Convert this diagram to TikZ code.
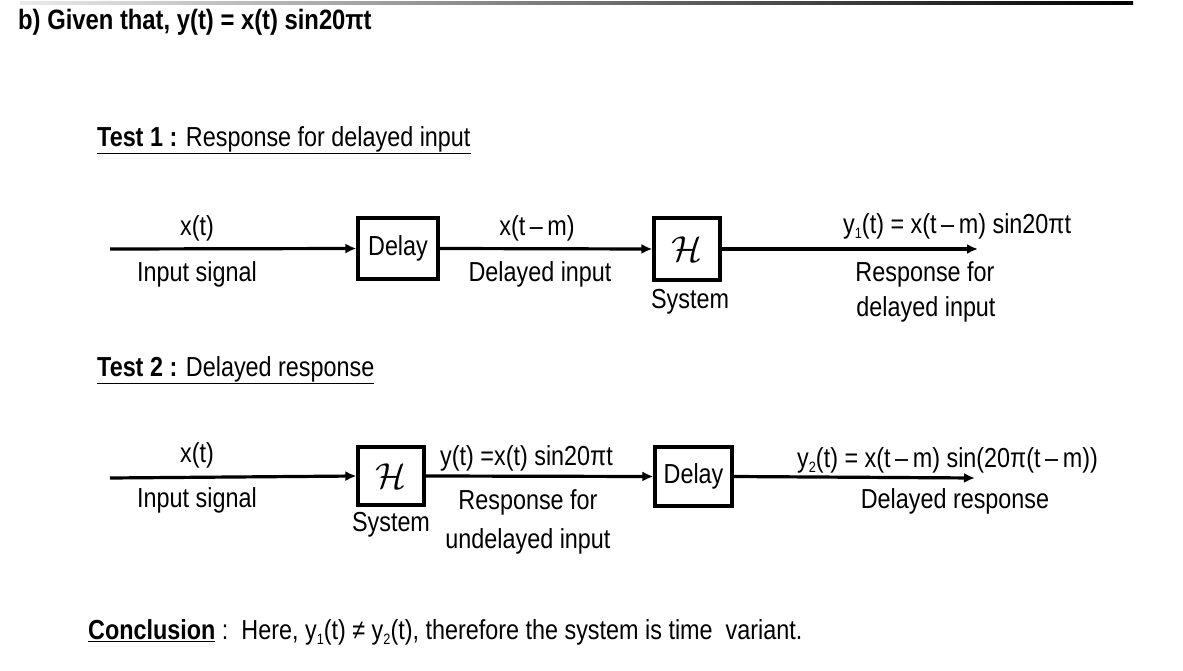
\documentclass[tikz,border=0pt]{standalone}
\usepackage{graphicx}
\usepackage{fontspec}
\setmainfont{Liberation Sans}[FakeStretch=0.85]
\usetikzlibrary{arrows.meta}
\newcommand{\lsub}[1]{\raisebox{-0.35ex}{\fontsize{15}{16}\selectfont #1}}
\newcommand{\sysH}{\scalebox{1.45}{\(\mathcal{H}\)}}
\begin{document}
\begin{tikzpicture}[x=1pt,y=-1pt,
  txt/.style={inner sep=0pt,font=\fontsize{27.5}{29}\selectfont,align=center},
  blk/.style={draw,line width=3.2pt,inner sep=0pt,font=\fontsize{27.5}{29}\selectfont},
  sig/.style={line width=3.2pt,-{Latex[length=11pt,width=10pt]}}]
\useasboundingbox (0,0) rectangle (1183,671);
\shade[left color=white!92!black,right color=black] (20,1.5) rectangle (1133,5);
% title
\node[txt,anchor=west,font=\fontsize{28}{30}\selectfont\bfseries] (title) at (18,22) {b) Given that, y(t) = x(t) sin20πt};
% Test 1
\node[txt,anchor=west] (t1) at (97,140) {\underline{\textbf{Test 1 :} Response for delayed input}};
\coordinate (in1) at (110,249);
\coordinate (out1) at (978,249);
\node[blk,minimum width=80pt,minimum height=61pt] (d1) at (398,248.5) {Delay};
\node[blk,minimum width=66pt,minimum height=62pt] (h1) at (687,249) {\sysH};
\draw[sig] (in1) -- (d1.west);
\draw[sig] (d1.east) -- (h1.west);
\draw[sig] (h1.east) -- (out1);
\node[txt] (l1a) at (197,228) {x(t)};
\node[txt] (l1b) at (197,274) {Input signal};
\node[txt] (l1c) at (537,228) {x(t\,–\,m)};
\node[txt] (l1d) at (540,274) {Delayed input};
\node[txt] (l1e) at (690,302) {System};
\node[txt,anchor=west] (l1f) at (843,226) {y\lsub{1}(t) = x(t\,–\,m) sin20πt};
\node[txt] (l1g) at (925,274) {Response for};
\node[txt] (l1h) at (926,309) {delayed input};
% Test 2
\node[txt,anchor=west] (t2) at (97,370) {\underline{\textbf{Test 2 :} Delayed response}};
\coordinate (in2) at (110,478);
\coordinate (out2) at (975,478);
\node[blk,minimum width=66pt,minimum height=58pt] (h2) at (391,476) {\sysH};
\node[blk,minimum width=77pt,minimum height=59pt] (d2) at (693.5,476.5) {Delay};
\draw[sig] (in2) -- (h2.west);
\draw[sig] (h2.east) -- (d2.west);
\draw[sig] (d2.east) -- (out2);
\node[txt] (l2a) at (197,455) {x(t)};
\node[txt] (l2b) at (197,500) {Input signal};
\node[txt] (l2c) at (391,525) {System};
\node[txt,anchor=west] (l2d) at (440,458) {y(t) =x(t) sin20πt};
\node[txt] (l2e) at (528,502) {Response for};
\node[txt] (l2f) at (528,541) {undelayed input};
\node[txt,anchor=west] (l2g) at (797,460) {y\lsub{2}(t) = x(t\,–\,m) sin(20π(t\,–\,m))};
\node[txt] (l2h) at (955,501) {Delayed response};
% conclusion
\node[txt,anchor=west] (concl) at (88,632) {\underline{\textbf{Conclusion}} :\ \ Here, y\lsub{1}(t) ≠ y\lsub{2}(t), therefore the system is time\ \ variant.};
\end{tikzpicture}
\end{document}
